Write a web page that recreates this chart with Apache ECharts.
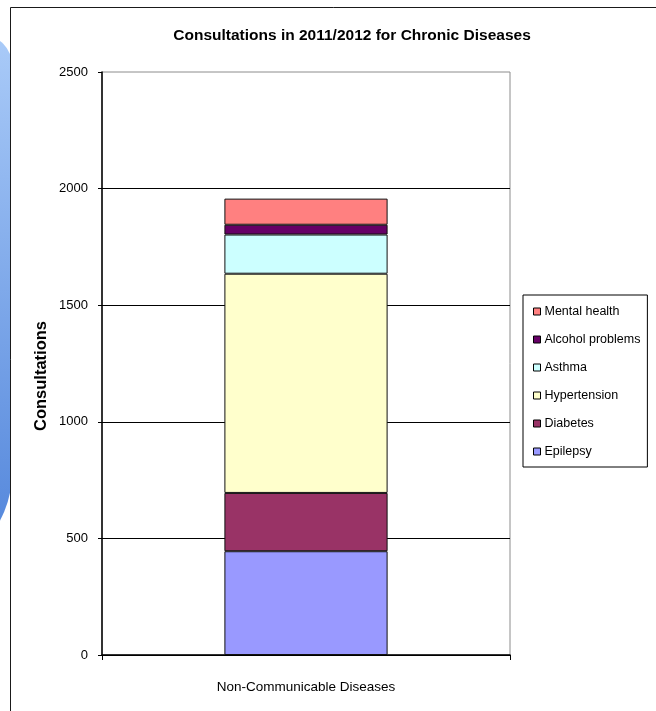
<!DOCTYPE html>
<html>
<head>
<meta charset="utf-8">
<script src="https://cdn.jsdelivr.net/npm/echarts@6/dist/echarts.min.js"></script>
<style>
  html, body { margin: 0; padding: 0; background: #ffffff; }
  #chart { width: 656px; height: 711px; }
</style>
</head>
<body>
<div id="chart"></div>
<script>
const categories = ['Non-Communicable Diseases'];
const seriesNames = ['Epilepsy', 'Diabetes', 'Hypertension', 'Asthma', 'Alcohol problems', 'Mental health'];
const epilepsy = [445];
const diabetes = [250];
const hypertension = [940];
const asthma = [168];
const alcoholProblems = [42];
const mentalHealth = [112];
const seriesColors = ['#9999FF', '#993366', '#FFFFCC', '#CCFFFF', '#660066', '#FF8080'];
const yTicks = { min: 0, max: 2500, interval: 500 };
const titleText = 'Consultations in 2011/2012 for Chronic Diseases';
const yAxisName = 'Consultations';

const seriesValues = [epilepsy, diabetes, hypertension, asthma, alcoholProblems, mentalHealth];
const FONT = '"Liberation Sans", Arial, sans-serif';

const chart = echarts.init(document.getElementById('chart'));
chart.setOption({
  animation: false,
  textStyle: { fontFamily: FONT, color: '#000' },
  graphic: [
    {
      type: 'rect', z: -20, silent: true,
      shape: { x: -200, y: 35, width: 212, height: 538, r: [30, 30, 100, 100] },
      style: {
        fill: new echarts.graphic.LinearGradient(0, 0, 0, 1, [
          { offset: 0, color: '#aacbf8' },
          { offset: 1, color: '#4f83da' }
        ])
      }
    },
    {
      type: 'rect', z: -10, silent: true,
      shape: { x: 10.5, y: 7.5, width: 700, height: 800 },
      style: { fill: '#ffffff', stroke: '#1a1a1a', lineWidth: 1 }
    },
    {
      type: 'text', silent: true,
      x: 41, y: 376, rotation: Math.PI / 2,
      style: {
        text: yAxisName, fontFamily: FONT, fontWeight: 'bold', fontSize: 16.5,
        fill: '#000', align: 'center', verticalAlign: 'middle'
      }
    }
  ],
  title: {
    text: titleText,
    left: 352,
    top: 28,
    textAlign: 'center',
    padding: 0,
    textStyle: { fontFamily: FONT, fontWeight: 'bold', fontSize: 15.5, color: '#000' }
  },
  legend: {
    orient: 'vertical',
    left: 523,
    top: 295,
    data: seriesNames.slice().reverse(),
    itemWidth: 7,
    itemHeight: 7,
    itemGap: 15,
    icon: 'rect',
    padding: [10, 7, 9, 10],
    borderColor: '#000',
    borderWidth: 1,
    borderRadius: 0,
    itemStyle: { borderColor: '#000', borderWidth: 1 },
    textStyle: { fontFamily: FONT, fontSize: 12.5, color: '#000', padding: [0, 0, 0, -1] }
  },
  grid: {
    left: 102, right: 146, top: 72, bottom: 56,
    show: true, borderColor: '#8c8c8c', borderWidth: 1, backgroundColor: 'transparent'
  },
  xAxis: {
    type: 'category',
    data: categories,
    boundaryGap: true,
    axisLine: { show: true, lineStyle: { color: '#000', width: 1.5 } },
    axisTick: { show: true, length: 5, inside: false, lineStyle: { color: '#000' } },
    axisLabel: { margin: 25, fontSize: 13.5, color: '#000', fontFamily: FONT },
    splitLine: { show: false }
  },
  yAxis: {
    type: 'value',
    min: yTicks.min,
    max: yTicks.max,
    interval: yTicks.interval,
    axisLine: { show: true, lineStyle: { color: '#000', width: 1.5 } },
    axisTick: { show: true, length: 4, inside: false, lineStyle: { color: '#000' } },
    axisLabel: { margin: 14, fontSize: 13, color: '#000', fontFamily: FONT, formatter: (v) => String(v) },
    splitLine: { show: true, showMaxLine: false, lineStyle: { color: '#000', width: 1.2 } }
  },
  series: seriesNames.map((name, i) => ({
    name: name,
    type: 'bar',
    stack: 'total',
    barWidth: '40%',
    data: seriesValues[i],
    itemStyle: { color: seriesColors[i], borderColor: '#111', borderWidth: 1 }
  }))
});
</script>
</body>
</html>
